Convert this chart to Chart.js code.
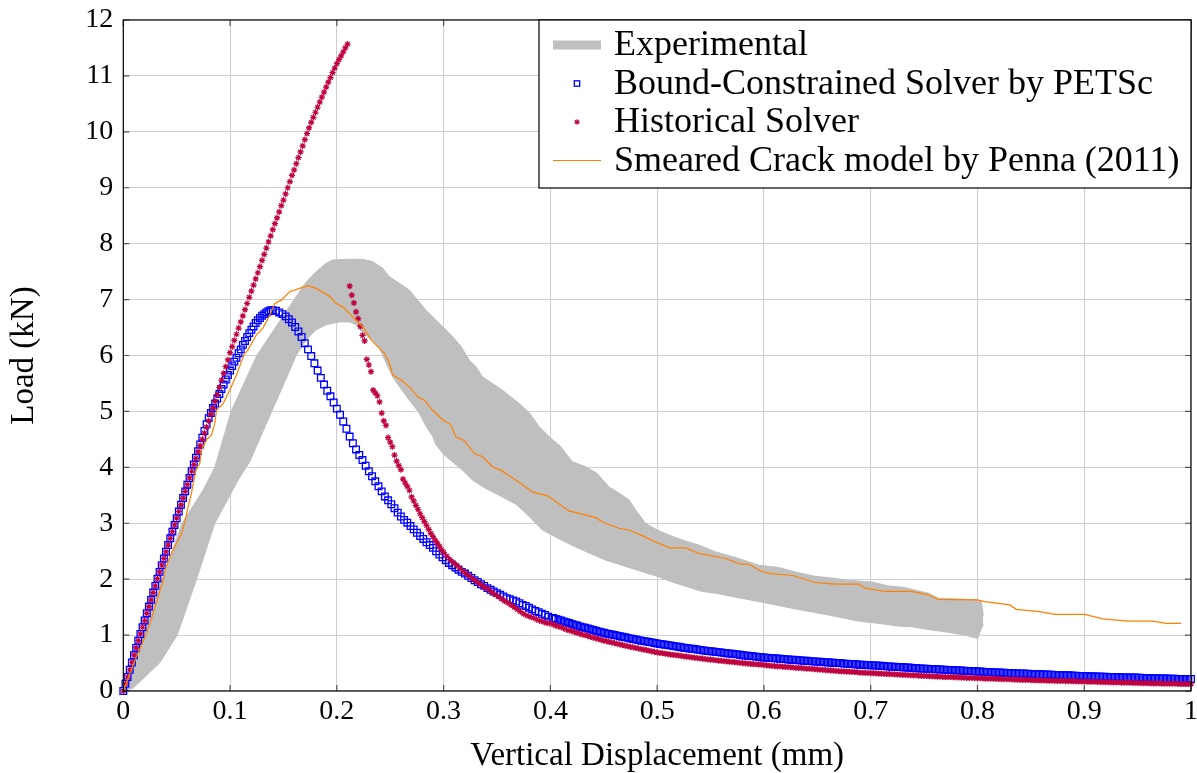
<!DOCTYPE html>
<html lang="en">
<head>
<meta charset="utf-8">
<script src="https://cdn.jsdelivr.net/npm/chart.js"></script>
<style>
    html, body { margin: 0; padding: 0; background: #fff; }
    #wrap { width: 1197px; height: 773px; }
</style>
</head>
<body>
<div id="wrap"><canvas id="myChart" width="1197" height="773"></canvas></div>
<script>
    // tick labels
    const xTickLabels = ['0', '0.1', '0.2', '0.3', '0.4', '0.5', '0.6', '0.7', '0.8', '0.9', '1'];
    const yTickLabels = ['0', '1', '2', '3', '4', '5', '6', '7', '8', '9', '10', '11', '12'];
    const seriesNames = ['Experimental', 'Bound-Constrained Solver by PETSc', 'Historical Solver', 'Smeared Crack model by Penna (2011)'];

    // Experimental envelope (upper / lower edge of the grey band)
    const expUpperX = [0,0.004,0.0184,0.0365,0.055,0.075,0.0857,0.101,0.125,0.16,0.1714,0.1807,0.19,0.1963,0.2119,0.2243,0.2336,0.243,0.2493,0.2586,
        0.2679,0.2757,0.2836,0.2929,0.3006,0.3084,0.3163,0.324,0.3303,0.3364,0.3458,0.3551,0.363,0.3707,0.3801,0.3894,0.3988,0.4097,0.4206,0.4331,
        0.4439,0.4549,0.4642,0.4736,0.4798,0.4891,0.5,0.515,0.527,0.539,0.5546,0.5764,0.595,0.6137,0.6293,0.648,0.6636,0.6791,0.701,0.7165,
        0.7321,0.7539,0.7633,0.7997,0.8034,0.8055];
    const expUpperY = [0,0.3,1,2,3,3.6,4,5,6,7,7.32,7.5,7.65,7.71,7.72,7.72,7.68,7.56,7.41,7.29,
        7.17,6.99,6.81,6.63,6.49,6.34,6.16,5.92,5.8,5.62,5.5,5.38,5.26,5.14,4.98,4.73,4.55,4.37,4.1,4.01,
        3.89,3.65,3.54,3.42,3.24,3.0,2.88,2.76,2.68,2.61,2.49,2.37,2.25,2.21,2.13,2.05,2.02,1.98,1.95,1.88,
        1.85,1.75,1.66,1.63,1.62,1.35];
    const expLowerX = [0,0.009,0.034,0.0505,0.0686,0.0857,0.1075,0.1184,0.139,0.162,0.1714,0.1807,0.19,0.2025,0.2119,0.2181,0.2243,0.2336,0.2399,0.2462,
        0.2523,0.2586,0.2679,0.2773,0.2836,0.2897,0.2929,0.3006,0.31,0.3178,0.3271,0.3396,0.352,0.3677,0.377,0.3863,0.3925,0.41,0.43,0.4518,
        0.4766,0.5016,0.514,0.542,0.5577,0.5701,0.595,0.6262,0.6574,0.6885,0.7072,0.7259,0.7383,0.757,0.7695,0.7882,0.8,0.8055];
    const expLowerY = [0,0.05,0.5,1,2,3,3.77,4.1,5,6,6.28,6.46,6.55,6.6,6.6,6.55,6.4,6.28,6.13,5.86,
        5.62,5.44,5.2,4.97,4.73,4.55,4.4,4.22,4.07,3.95,3.77,3.62,3.5,3.34,3.18,3.0,2.88,2.7,2.52,2.34,
        2.19,2.04,1.95,1.78,1.74,1.69,1.6,1.48,1.37,1.25,1.21,1.16,1.15,1.09,1.06,1.0,0.94,1.2];

    // Bound-Constrained Solver by PETSc
    const bcsRiseX = [0,0.002,0.004,0.006,0.008,0.01,0.012,0.014,0.016,0.018,
        0.02,0.022,0.024,0.026,0.028,0.03,0.032,0.034,0.036,0.038,
        0.04,0.042,0.044,0.046,0.048,0.05,0.052,0.054,0.056,0.058,
        0.06,0.062,0.064,0.066,0.068,0.07,0.072,0.074,0.076,0.078,
        0.08,0.082,0.084,0.086,0.088,0.09,0.092,0.094,0.096,0.098,
        0.1,0.102,0.104,0.106,0.108,0.11,0.112,0.114,0.116,0.118,
        0.12,0.122,0.124,0.126,0.128,0.13,0.132,0.134,0.136,0.138,
        0.14];
    const bcsRiseY = [0,0.13,0.25,0.38,0.51,0.64,0.77,0.9,1.02,1.14,
        1.26,1.39,1.51,1.63,1.76,1.88,2.01,2.13,2.25,2.37,
        2.49,2.61,2.73,2.85,2.97,3.09,3.21,3.33,3.45,3.57,
        3.69,3.81,3.93,4.05,4.17,4.29,4.41,4.53,4.65,4.77,
        4.88,4.97,5.06,5.14,5.23,5.31,5.4,5.48,5.57,5.65,
        5.73,5.81,5.89,5.96,6.04,6.11,6.19,6.26,6.33,6.4,
        6.46,6.52,6.58,6.63,6.67,6.71,6.74,6.77,6.79,6.81,
        6.81];
    const bcsPeakX = [0.143,0.146,0.149,0.152,0.155,0.158,0.161,0.164,0.167,0.17,
        0.173,0.176,0.179,0.182,0.185,0.188,0.191,0.194,0.197,0.2,
        0.203,0.206,0.209,0.212,0.215,0.218,0.221,0.224,0.227,0.23,
        0.233,0.236,0.239,0.242,0.245,0.248,0.251,0.254,0.257,0.26,
        0.263,0.266,0.269,0.272,0.275,0.278,0.281,0.284,0.287,0.29,
        0.293,0.296,0.299,0.302,0.305,0.308,0.311,0.314,0.317,0.32,
        0.323,0.326,0.329,0.332,0.335,0.338,0.341,0.344,0.347,0.35,
        0.353,0.356,0.359,0.362,0.365,0.368,0.371,0.374,0.377,0.38,
        0.383,0.386,0.389,0.392,0.395,0.398];
    const bcsPeakY = [6.8,6.77,6.74,6.7,6.65,6.59,6.51,6.43,6.33,6.22,
        6.11,5.99,5.86,5.73,5.6,5.48,5.37,5.27,5.16,5.05,
        4.94,4.82,4.69,4.55,4.43,4.32,4.22,4.13,4.03,3.93,
        3.84,3.75,3.66,3.57,3.48,3.41,3.34,3.27,3.19,3.12,
        3.06,3.01,2.95,2.89,2.83,2.77,2.72,2.66,2.61,2.56,
        2.5,2.44,2.39,2.34,2.29,2.25,2.21,2.17,2.13,2.1,
        2.06,2.02,1.98,1.95,1.91,1.88,1.84,1.81,1.78,1.75,
        1.72,1.69,1.66,1.64,1.62,1.6,1.57,1.54,1.52,1.49,
        1.46,1.43,1.41,1.38,1.36,1.33];

    // displacements of the long tail, shared by both solvers
    const tailX = [0.4025,0.405,0.4075,0.41,0.4125,0.415,0.4175,0.42,
        0.4225,0.425,0.4275,0.43,0.4325,0.435,0.4375,0.44,
        0.4425,0.445,0.4475,0.45,0.4525,0.455,0.4575,0.46,
        0.4625,0.465,0.4675,0.47,0.4725,0.475,0.4775,0.48,
        0.4825,0.485,0.4875,0.49,0.4925,0.495,0.4975,0.5,
        0.5025,0.505,0.5075,0.51,0.5125,0.515,0.5175,0.52,
        0.5225,0.525,0.5275,0.53,0.5325,0.535,0.5375,0.54,
        0.5425,0.545,0.5475,0.55,0.5525,0.555,0.5575,0.56,
        0.5625,0.565,0.5675,0.57,0.5725,0.575,0.5775,0.58,
        0.5825,0.585,0.5875,0.59,0.5925,0.595,0.5975,0.6,
        0.6025,0.605,0.6075,0.61,0.6125,0.615,0.6175,0.62,
        0.6225,0.625,0.6275,0.63,0.6325,0.635,0.6375,0.64,
        0.6425,0.645,0.6475,0.65,0.6525,0.655,0.6575,0.66,
        0.6625,0.665,0.6675,0.67,0.6725,0.675,0.6775,0.68,
        0.6825,0.685,0.6875,0.69,0.6925,0.695,0.6975,0.7,
        0.7025,0.705,0.7075,0.71,0.7125,0.715,0.7175,0.72,
        0.7225,0.725,0.7275,0.73,0.7325,0.735,0.7375,0.74,
        0.7425,0.745,0.7475,0.75,0.7525,0.755,0.7575,0.76,
        0.7625,0.765,0.7675,0.77,0.7725,0.775,0.7775,0.78,
        0.7825,0.785,0.7875,0.79,0.7925,0.795,0.7975,0.8,
        0.8025,0.805,0.8075,0.81,0.8125,0.815,0.8175,0.82,
        0.8225,0.825,0.8275,0.83,0.8325,0.835,0.8375,0.84,
        0.8425,0.845,0.8475,0.85,0.8525,0.855,0.8575,0.86,
        0.8625,0.865,0.8675,0.87,0.8725,0.875,0.8775,0.88,
        0.8825,0.885,0.8875,0.89,0.8925,0.895,0.8975,0.9,
        0.9025,0.905,0.9075,0.91,0.9125,0.915,0.9175,0.92,
        0.9225,0.925,0.9275,0.93,0.9325,0.935,0.9375,0.94,
        0.9425,0.945,0.9475,0.95,0.9525,0.955,0.9575,0.96,
        0.9625,0.965,0.9675,0.97,0.9725,0.975,0.9775,0.98,
        0.9825,0.985,0.9875,0.99,0.9925,0.995,0.9975,1];
    const bcsTailY = [1.305,1.29,1.275,1.26,1.245,1.23,1.215,1.2,
        1.185,1.17,1.155,1.14,1.13,1.12,1.105,1.09,
        1.078,1.065,1.052,1.04,1.03,1.02,1.01,1.0,
        0.99,0.98,0.97,0.96,0.95,0.94,0.93,0.92,
        0.91,0.9,0.892,0.885,0.878,0.87,0.86,0.85,
        0.842,0.835,0.828,0.82,0.812,0.805,0.798,0.79,
        0.782,0.775,0.768,0.76,0.755,0.75,0.742,0.735,
        0.728,0.72,0.715,0.71,0.705,0.7,0.695,0.69,
        0.682,0.675,0.67,0.665,0.66,0.655,0.648,0.64,
        0.635,0.63,0.625,0.62,0.615,0.61,0.605,0.6,
        0.595,0.59,0.588,0.585,0.58,0.575,0.572,0.57,
        0.565,0.56,0.558,0.555,0.55,0.545,0.542,0.54,
        0.535,0.53,0.528,0.525,0.522,0.52,0.515,0.51,
        0.508,0.505,0.502,0.5,0.495,0.49,0.488,0.485,
        0.482,0.48,0.475,0.47,0.468,0.465,0.462,0.46,
        0.458,0.455,0.452,0.45,0.445,0.44,0.438,0.435,
        0.432,0.43,0.428,0.425,0.422,0.42,0.415,0.41,
        0.408,0.405,0.402,0.4,0.398,0.395,0.392,0.39,
        0.388,0.385,0.382,0.38,0.378,0.375,0.372,0.37,
        0.368,0.365,0.362,0.36,0.358,0.355,0.352,0.35,
        0.348,0.345,0.342,0.34,0.338,0.335,0.332,0.33,
        0.328,0.325,0.322,0.32,0.318,0.316,0.315,0.314,
        0.312,0.31,0.308,0.305,0.302,0.3,0.3,0.299,
        0.297,0.295,0.292,0.29,0.288,0.286,0.285,0.284,
        0.282,0.28,0.278,0.275,0.272,0.27,0.27,0.269,
        0.267,0.265,0.262,0.26,0.258,0.256,0.255,0.254,
        0.252,0.25,0.25,0.249,0.247,0.245,0.242,0.241,
        0.24,0.24,0.24,0.239,0.237,0.235,0.232,0.231,
        0.23,0.229,0.227,0.225,0.225,0.224,0.222,0.22,
        0.22,0.219,0.217,0.215,0.215,0.215,0.215,0.214];

    // Historical Solver
    const histRiseX = [0,0.002,0.004,0.006,0.008,0.01,0.012,0.014,0.016,0.018,
        0.02,0.022,0.024,0.026,0.028,0.03,0.032,0.034,0.036,0.038,
        0.04,0.042,0.044,0.046,0.048,0.05,0.052,0.054,0.056,0.058,
        0.06,0.062,0.064,0.066,0.068,0.07,0.072,0.074,0.076,0.078,
        0.08,0.082,0.084,0.086,0.088,0.09,0.092,0.094,0.096,0.098,
        0.1,0.102,0.104,0.106,0.108,0.11,0.112,0.114,0.116,0.118,
        0.12,0.122,0.124,0.126,0.128,0.13,0.132,0.134,0.136,0.138,
        0.14,0.142,0.144,0.146,0.148,0.15,0.152,0.154,0.156,0.158,
        0.16,0.162,0.164,0.166,0.168,0.17,0.172,0.174,0.176,0.178,
        0.18,0.182,0.184,0.186,0.188,0.19,0.192,0.194,0.196,0.198,
        0.2,0.202,0.204,0.206,0.208,0.21];
    const histRiseY = [0,0.13,0.25,0.38,0.51,0.64,0.77,0.9,1.02,1.14,
        1.26,1.39,1.51,1.63,1.76,1.88,2.01,2.13,2.25,2.37,
        2.49,2.61,2.73,2.85,2.97,3.09,3.21,3.33,3.45,3.57,
        3.69,3.81,3.93,4.05,4.16,4.28,4.39,4.5,4.61,4.72,
        4.83,4.95,5.06,5.18,5.3,5.43,5.56,5.68,5.8,5.92,
        6.05,6.16,6.27,6.38,6.49,6.6,6.71,6.82,6.93,7.04,
        7.15,7.26,7.37,7.48,7.59,7.7,7.81,7.92,8.03,8.14,
        8.25,8.36,8.46,8.57,8.68,8.78,8.89,9.0,9.11,9.22,
        9.32,9.43,9.54,9.64,9.75,9.86,9.97,10.07,10.17,10.26,
        10.35,10.44,10.53,10.62,10.71,10.8,10.89,10.97,11.06,11.14,
        11.22,11.29,11.36,11.43,11.5,11.57];
    const histDropX = [0.212,0.214,0.216,0.218,0.22,0.222,0.224,0.226,0.228,0.23,
        0.232,0.234,0.236,0.238,0.24,0.242,0.244,0.246,0.248,0.25,
        0.252,0.254,0.256,0.258,0.26,0.262,0.264,0.266,0.268,0.27,
        0.272,0.274,0.276,0.278,0.28,0.282,0.284,0.286,0.288,0.29,
        0.292,0.294,0.296,0.298,0.3,
        0.303,0.306,0.309,0.312,0.315,0.318,0.321,0.324,0.327,0.33,
        0.333,0.336,0.339,0.342,0.345,0.348,0.351,0.354,0.357,0.36,
        0.363,0.366,0.369,0.372,0.375,0.378,0.381,0.384,0.387,0.39,
        0.393,0.396,0.399];
    const histDropY = [7.24,7.08,6.94,6.78,6.66,6.52,6.36,6.26,5.93,5.83,
        5.71,5.38,5.33,5.28,5.17,4.97,4.83,4.75,4.53,4.45,
        4.37,4.22,4.11,4.03,3.96,3.79,3.72,3.66,3.59,3.47,
        3.4,3.32,3.25,3.17,3.1,3.03,2.96,2.89,2.82,2.76,
        2.7,2.65,2.59,2.53,2.48,
        2.41,2.35,2.3,2.25,2.2,2.15,2.1,2.06,2.01,1.97,
        1.93,1.89,1.85,1.82,1.77,1.73,1.69,1.65,1.61,1.58,
        1.54,1.5,1.46,1.42,1.38,1.35,1.33,1.31,1.28,1.26,
        1.24,1.22,1.21];
    const histTailY = [1.19,1.17,1.155,1.14,1.12,1.1,1.085,1.07,
        1.055,1.04,1.025,1.01,0.998,0.985,0.97,0.955,
        0.942,0.93,0.915,0.9,0.89,0.88,0.868,0.855,
        0.845,0.835,0.822,0.81,0.8,0.79,0.78,0.77,
        0.76,0.75,0.74,0.73,0.72,0.71,0.7,0.69,
        0.682,0.675,0.668,0.66,0.652,0.645,0.64,0.635,
        0.628,0.62,0.615,0.61,0.602,0.595,0.59,0.585,
        0.578,0.57,0.565,0.56,0.555,0.55,0.545,0.54,
        0.535,0.53,0.525,0.52,0.515,0.51,0.505,0.5,
        0.495,0.49,0.485,0.48,0.478,0.475,0.47,0.465,
        0.46,0.455,0.45,0.445,0.442,0.44,0.435,0.43,
        0.428,0.425,0.42,0.415,0.412,0.41,0.405,0.4,
        0.398,0.395,0.39,0.385,0.382,0.38,0.375,0.37,
        0.368,0.365,0.36,0.355,0.352,0.35,0.348,0.345,
        0.342,0.34,0.335,0.33,0.328,0.325,0.322,0.32,
        0.318,0.315,0.312,0.31,0.308,0.305,0.302,0.3,
        0.298,0.295,0.292,0.29,0.288,0.285,0.282,0.28,
        0.278,0.275,0.272,0.27,0.268,0.265,0.262,0.26,
        0.258,0.255,0.252,0.25,0.25,0.25,0.248,0.245,
        0.242,0.24,0.238,0.235,0.235,0.235,0.232,0.23,
        0.228,0.225,0.222,0.22,0.22,0.22,0.218,0.215,
        0.212,0.21,0.21,0.21,0.208,0.205,0.202,0.2,
        0.2,0.2,0.198,0.195,0.192,0.19,0.19,0.19,
        0.188,0.185,0.185,0.185,0.182,0.18,0.18,0.18,
        0.178,0.175,0.175,0.175,0.172,0.17,0.17,0.17,
        0.168,0.165,0.165,0.165,0.162,0.16,0.16,0.16,
        0.158,0.155,0.155,0.155,0.152,0.15,0.15,0.15,
        0.148,0.145,0.145,0.145,0.142,0.14,0.14,0.14,
        0.138,0.135,0.135,0.135,0.132,0.13,0.13,0.13,
        0.13,0.13,0.128,0.125,0.125,0.125,0.125,0.125];

    // Smeared Crack model by Penna (2011)
    const pennaX = [0,0.012,0.02,0.025,0.0312,0.0374,0.039,0.0436,0.0483,0.0546,0.0577,0.0608,0.0639,0.0654,0.0686,0.0717,0.0733,0.0779,0.0826,0.0857,
        0.0873,0.0935,0.0997,0.106,0.1107,0.1128,0.1168,0.1247,0.1308,0.1371,0.1418,0.148,0.1558,0.1651,0.1729,0.1807,0.1932,0.1994,0.2056,0.2119,
        0.2181,0.2243,0.229,0.2321,0.2383,0.2446,0.2493,0.2523,0.2602,0.2679,0.2757,0.282,0.2897,0.2991,0.3069,0.3116,0.3193,0.3287,0.3364,0.3458,
        0.3536,0.363,0.3723,0.3832,0.3972,0.405,0.4175,0.4424,0.4502,0.4642,0.4736,0.487,0.499,0.512,0.527,0.539,0.564,0.578,0.5857,0.5966,
        0.606,0.6262,0.648,0.6667,0.6885,0.6947,0.7134,0.7383,0.7539,0.7633,0.799,0.8069,0.8303,0.8364,0.8583,0.8723,0.9004,0.9174,0.9408,0.9642,
        0.9766,0.9907];
    const pennaY = [0,0.6,0.95,1.21,1.6,1.98,2.16,2.4,2.58,2.82,3.03,3.3,3.54,3.71,3.98,4.07,4.31,4.49,4.58,4.79,
        5.02,5.14,5.38,5.65,5.89,6.01,6.1,6.37,6.49,6.72,6.93,6.99,7.14,7.2,7.25,7.2,7.06,6.93,6.87,6.75,
        6.63,6.51,6.37,6.28,6.16,6.04,5.86,5.65,5.56,5.44,5.26,5.2,5.02,4.85,4.76,4.54,4.48,4.25,4.19,4.01,
        3.95,3.83,3.71,3.56,3.49,3.39,3.22,3.1,3.01,2.91,2.88,2.77,2.66,2.56,2.56,2.46,2.37,2.27,2.27,2.15,
        2.1,2.07,1.94,1.91,1.91,1.84,1.78,1.78,1.72,1.64,1.63,1.6,1.54,1.46,1.42,1.37,1.37,1.29,1.25,1.25,
        1.21,1.21];

    const FONT = '"Liberation Serif", "Times New Roman", serif';
    const grey = 'rgb(191,191,191)';
    const blue = 'rgb(0,0,255)';
    const purple = 'rgb(191,0,64)';
    const orange = 'rgb(255,128,0)';

    function toPoints(xs, ys) {
        var n = Math.min(xs.length, ys.length);
        var pts = [];
        for (var i = 0; i < n; i++) pts.push({x: xs[i], y: ys[i]});
        return pts;
    }

    // small inward tick marks + black box, like pgfplots
    const axisFrame = {
        id: 'axisFrame',
        afterDatasetsDraw(chart) {
            const ctx = chart.ctx, a = chart.chartArea;
            const xs = chart.scales.x, ys = chart.scales.y;
            ctx.save();
            ctx.strokeStyle = '#555';
            ctx.lineWidth = 1.2;
            ctx.beginPath();
            xs.ticks.forEach(function (t) {
                const px = xs.getPixelForValue(t.value);
                ctx.moveTo(px, a.bottom); ctx.lineTo(px, a.bottom - 6);
                ctx.moveTo(px, a.top); ctx.lineTo(px, a.top + 6);
            });
            ys.ticks.forEach(function (t) {
                const py = ys.getPixelForValue(t.value);
                ctx.moveTo(a.left, py); ctx.lineTo(a.left + 6, py);
                ctx.moveTo(a.right, py); ctx.lineTo(a.right - 6, py);
            });
            ctx.stroke();
            ctx.strokeStyle = '#000';
            ctx.lineWidth = 1.2;
            ctx.strokeRect(a.left, a.top, a.right - a.left, a.bottom - a.top);
            ctx.restore();
        }
    };

    // boxed legend in the top right corner
    const legendBox = {
        id: 'legendBox',
        afterDraw(chart) {
            const ctx = chart.ctx, a = chart.chartArea;
            const w = 652, h = 168;
            const l = a.right - w, t = a.top;
            ctx.save();
            ctx.fillStyle = '#fff';
            ctx.fillRect(l, t, w, h);
            ctx.strokeStyle = '#000';
            ctx.lineWidth = 1.2;
            ctx.strokeRect(l, t, w, h);
            ctx.font = '36px ' + FONT;
            ctx.textBaseline = 'alphabetic';
            seriesNames.forEach(function (name, i) {
                const base = t + 35 + i * 38.5;
                const sy = base - 10;
                const sx = l + 38;
                if (i === 0) {
                    ctx.fillStyle = grey;
                    ctx.fillRect(l + 14, sy - 4.5, 48, 9);
                } else if (i === 1) {
                    ctx.strokeStyle = blue;
                    ctx.lineWidth = 1.3;
                    ctx.strokeRect(sx - 2.7, sy - 2.7, 5.4, 5.4);
                } else if (i === 2) {
                    ctx.strokeStyle = purple;
                    ctx.lineWidth = 1.1;
                    ctx.beginPath();
                    for (var k = 0; k < 4; k++) {
                        const ang = k * Math.PI / 4;
                        ctx.moveTo(sx - 2.8 * Math.cos(ang), sy - 2.8 * Math.sin(ang));
                        ctx.lineTo(sx + 2.8 * Math.cos(ang), sy + 2.8 * Math.sin(ang));
                    }
                    ctx.stroke();
                } else {
                    ctx.strokeStyle = orange;
                    ctx.lineWidth = 1.1;
                    ctx.beginPath();
                    ctx.moveTo(l + 14, sy);
                    ctx.lineTo(l + 62, sy);
                    ctx.stroke();
                }
                ctx.fillStyle = '#000';
                ctx.fillText(name, l + 75, base);
            });
            ctx.restore();
        }
    };

    function buildChart() {
        const datasets = [
            {
                label: seriesNames[0],
                data: toPoints(expUpperX, expUpperY),
                showLine: true, fill: false,
                borderColor: grey, borderWidth: 1,
                pointRadius: 0, order: 6
            },
            {
                label: seriesNames[0] + ' (lower)',
                data: toPoints(expLowerX, expLowerY),
                showLine: true, fill: '-1',
                borderColor: grey, backgroundColor: grey, borderWidth: 1,
                pointRadius: 0, order: 5
            },
            {
                label: seriesNames[1],
                data: toPoints(bcsRiseX.concat(bcsPeakX, tailX), bcsRiseY.concat(bcsPeakY, bcsTailY)),
                showLine: false,
                pointStyle: 'rect', pointRadius: 4.7,
                borderColor: blue, pointBorderColor: blue,
                backgroundColor: 'rgba(0,0,255,0)', pointBackgroundColor: 'rgba(0,0,255,0)',
                pointBorderWidth: 1.3, clip: false, order: 3
            },
            {
                label: seriesNames[2],
                data: toPoints(histRiseX.concat(histDropX, tailX), histRiseY.concat(histDropY, histTailY)),
                showLine: false,
                pointStyle: 'star', pointRadius: 3.1,
                borderColor: purple, pointBorderColor: purple,
                backgroundColor: purple, pointBackgroundColor: purple,
                pointBorderWidth: 1.2, clip: false, order: 2
            },
            {
                label: seriesNames[3],
                data: toPoints(pennaX, pennaY),
                showLine: true, fill: false,
                borderColor: orange, borderWidth: 1.2,
                pointRadius: 0, order: 1
            }
        ];

        new Chart(document.getElementById('myChart'), {
            type: 'scatter',
            data: {datasets: datasets},
            options: {
                responsive: false,
                animation: false,
                events: [],
                layout: {padding: {top: 20, right: 3.7, left: 0, bottom: 0}},
                plugins: {
                    legend: {display: false},
                    tooltip: {enabled: false}
                },
                elements: {line: {tension: 0}},
                scales: {
                    x: {
                        type: 'linear', min: 0, max: 1,
                        ticks: {
                            stepSize: 0.1, autoSkip: false, maxRotation: 0,
                            padding: 4, color: '#000',
                            font: {family: FONT, size: 28},
                            callback: function (v, i) { return xTickLabels[i]; }
                        },
                        grid: {color: '#cfcfcf', lineWidth: 1.1, drawTicks: false},
                        border: {display: false},
                        title: {
                            display: true, text: 'Vertical Displacement (mm)', color: '#000',
                            font: {family: FONT, size: 33}, padding: {top: 0, bottom: -3}
                        },
                        afterFit: function (s) { s.height = 82; s.paddingLeft = 0; s.paddingRight = 0; }
                    },
                    y: {
                        type: 'linear', min: 0, max: 12,
                        ticks: {
                            stepSize: 1, autoSkip: false, padding: 10, color: '#000',
                            font: {family: FONT, size: 28},
                            callback: function (v, i) { return yTickLabels[i]; }
                        },
                        grid: {color: '#cfcfcf', lineWidth: 1.1, drawTicks: false},
                        border: {display: false},
                        title: {
                            display: true, text: 'Load (kN)', color: '#000',
                            font: {family: FONT, size: 33}, padding: {top: 5, bottom: 0}
                        },
                        afterFit: function (s) { s.width = 123.3; s.paddingTop = 0; s.paddingBottom = 0; }
                    }
                }
            },
            plugins: [axisFrame, legendBox]
        });
    }

    if (document.fonts && document.fonts.load) {
        Promise.all([
            document.fonts.load('28px "Liberation Serif"'),
            document.fonts.load('36px "Liberation Serif"')
        ]).then(buildChart, buildChart);
    } else {
        buildChart();
    }
</script>
</body>
</html>
